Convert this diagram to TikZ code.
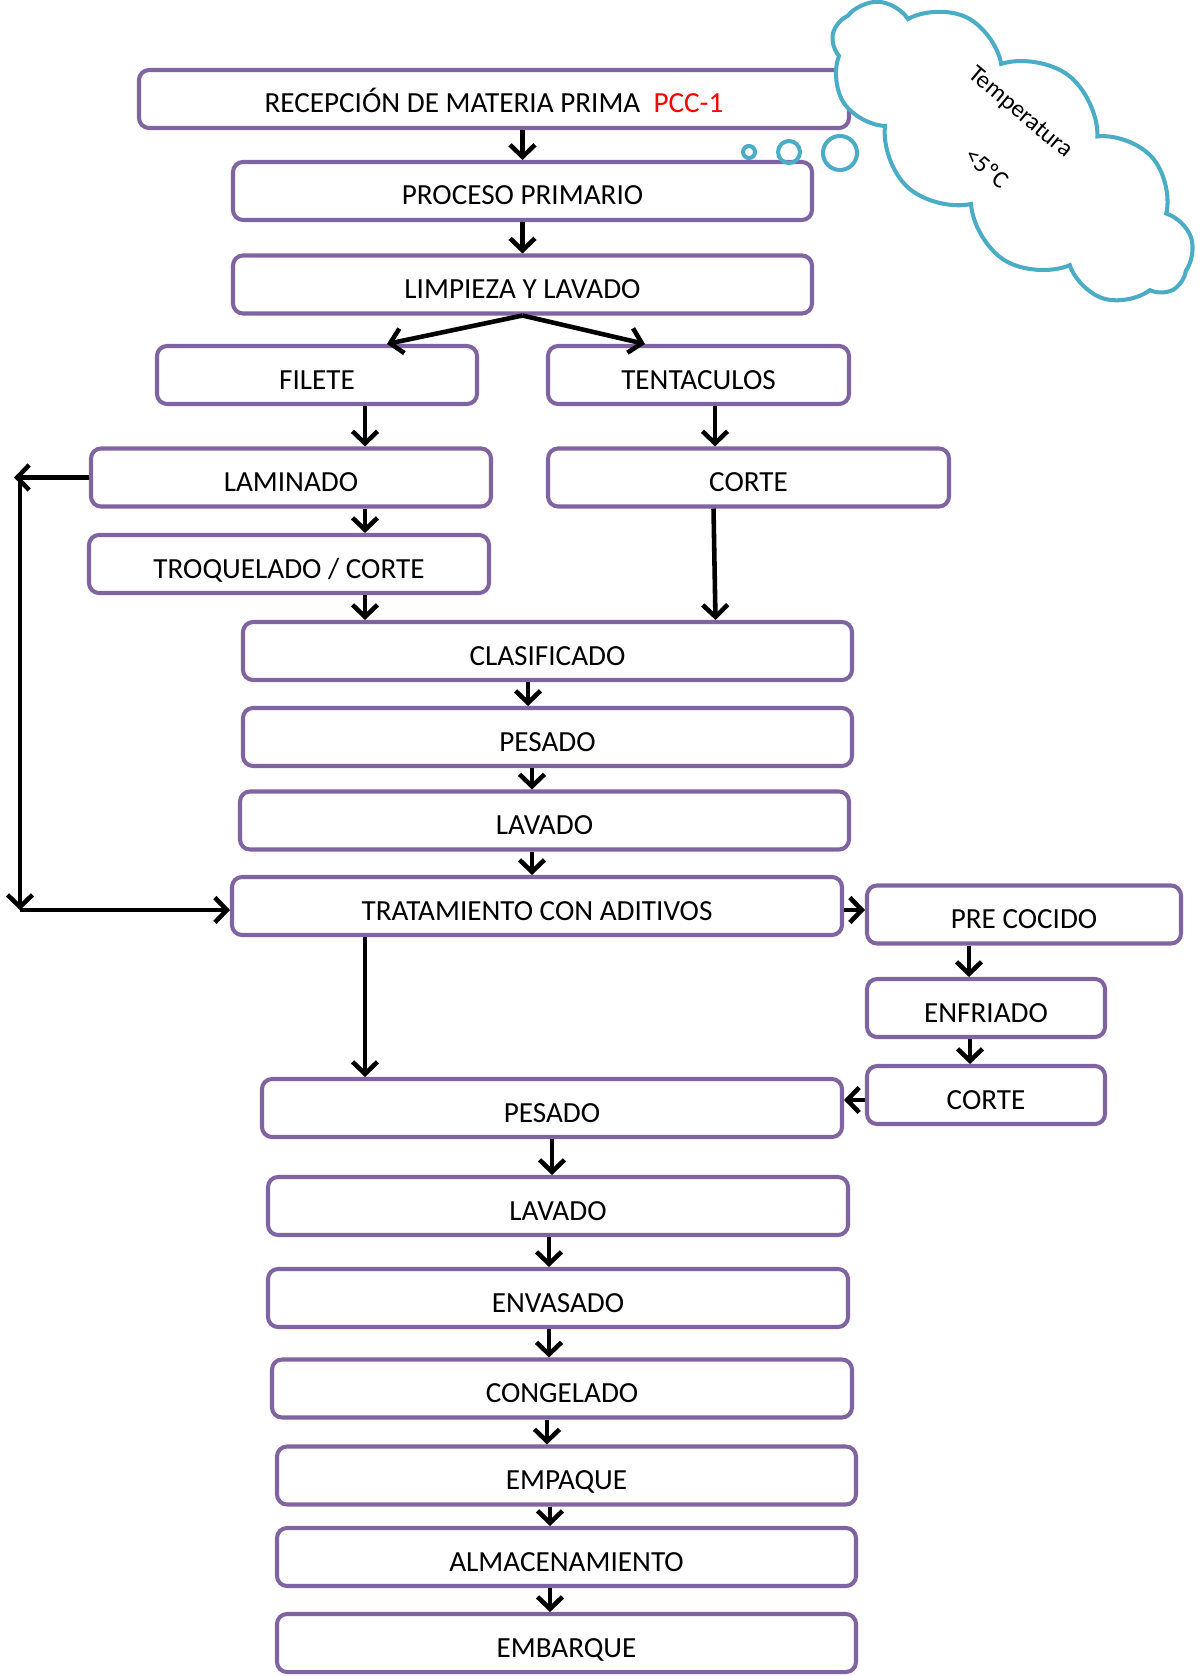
\documentclass[tikz,border=0pt]{standalone}
\usepackage{fontspec}
\setmainfont{Carlito}
\usetikzlibrary{arrows.meta,shapes.symbols}
\definecolor{boxpurple}{HTML}{8064A2}
\definecolor{cloudblue}{HTML}{4BACC6}
\begin{document}
\begin{tikzpicture}[font=\fontsize{16.6}{19}\selectfont,
  box/.style={draw=boxpurple, line width=2.3pt, rounded corners=0.2cm, fill=white,
    minimum height=1.16cm, inner sep=0pt, text height=0.56cm, text depth=0pt},
  arr/.style={line width=2.6pt, -{Straight Barb[length=0.24cm,width=0.5cm]}},
  bubble/.style={draw=cloudblue, line width=2.3pt}]
\useasboundingbox (0,0) rectangle (24.02,-33.52);
% main line
\node[box, minimum width=14.2cm] (rec) at (9.88,-1.98) {RECEPCIÓN DE MATERIA PRIMA \ \textcolor{red}{PCC-1}};
\node[box, minimum width=11.58cm] (pp) at (10.45,-3.82) {PROCESO PRIMARIO};
\node[box, minimum width=11.58cm] (lim) at (10.45,-5.69) {LIMPIEZA Y LAVADO};
\node[box, minimum width=6.4cm] (fil) at (6.34,-7.50) {FILETE};
\node[box, minimum width=6.02cm] (ten) at (13.97,-7.50) {TENTACULOS};
\node[box, minimum width=8.0cm] (lam) at (5.82,-9.55) {LAMINADO};
\node[box, minimum width=8.02cm] (cor1) at (14.97,-9.55) {CORTE};
\node[box, minimum width=8.0cm] (tro) at (5.78,-11.28) {TROQUELADO / CORTE};
\node[box, minimum width=12.18cm] (cla) at (10.95,-13.02) {CLASIFICADO};
\node[box, minimum width=12.18cm] (pes1) at (10.95,-14.74) {PESADO};
\node[box, minimum width=12.18cm] (lav1) at (10.89,-16.41) {LAVADO};
\node[box, minimum width=12.2cm] (tra) at (10.74,-18.12) {TRATAMIENTO CON ADITIVOS};
% side line
\node[box, minimum width=6.28cm] (pre) at (20.48,-18.29) {PRE COCIDO};
\node[box, minimum width=4.76cm] (enf) at (19.72,-20.16) {ENFRIADO};
\node[box, minimum width=4.76cm] (cor2) at (19.72,-21.90) {CORTE};
% last part
\node[box, minimum width=11.6cm] (pes2) at (11.04,-22.16) {PESADO};
\node[box, minimum width=11.6cm] (lav2) at (11.16,-24.12) {LAVADO};
\node[box, minimum width=11.6cm] (env) at (11.16,-25.96) {ENVASADO};
\node[box, minimum width=11.6cm] (con) at (11.24,-27.77) {CONGELADO};
\node[box, minimum width=11.58cm] (emp) at (11.33,-29.51) {EMPAQUE};
\node[box, minimum width=11.58cm] (alm) at (11.33,-31.14) {ALMACENAMIENTO};
\node[box, minimum width=11.58cm] (emb) at (11.33,-32.86) {EMBARQUE};
% arrows
\draw[arr] (rec.south -| pp.north) -- (pp.north);
\draw[arr] (pp.south) -- (lim.north);
\draw[arr] (lim.south) -- ([xshift=1.4cm]fil.north);
\draw[arr] (lim.south) -- ([xshift=-1.07cm]ten.north);
\draw[arr] ([xshift=0.96cm]fil.south) -- ([xshift=0.96cm]fil.south |- lam.north);
\draw[arr] ([xshift=0.33cm]ten.south) -- ([xshift=0.33cm]ten.south |- cor1.north);
\draw[arr] ([xshift=1.48cm]lam.south) -- ([xshift=1.48cm]lam.south |- tro.north);
\draw[arr] ([xshift=1.52cm]tro.south) -- ([xshift=1.52cm]tro.south |- cla.north);
\draw[arr] ([xshift=-0.7cm]cor1.south) -- ([xshift=-0.66cm]cor1.south |- cla.north);
\draw[arr] ([xshift=-0.39cm]cla.south) -- ([xshift=-0.39cm]cla.south |- pes1.north);
\draw[arr] ([xshift=-0.31cm]pes1.south) -- ([xshift=-0.31cm]pes1.south |- lav1.north);
\draw[arr] ([xshift=-0.25cm]lav1.south) -- ([xshift=-0.25cm]lav1.south |- tra.north);
% loop from laminado
\coordinate (lp1) at (0.28,-9.55);
\coordinate (lp2) at (0.40,-9.55);
\coordinate (lp3) at (0.40,-18.2);
\draw[arr] (lam.west) -- (lp1);
\draw[arr] (lp2) -- (lp3);
\draw[arr] (lp3) -- (lp3 -| tra.west);
\draw[arr] ([yshift=-0.08cm]tra.east) -- ([yshift=-0.08cm]tra.east -| pre.west);
\draw[arr] ([xshift=-3.44cm]tra.south) -- ([xshift=-3.44cm]tra.south |- pes2.north);
\draw[arr] ([xshift=-1.1cm]pre.south) -- ([xshift=-1.1cm]pre.south |- enf.north);
\draw[arr] ([xshift=-0.32cm]enf.south) -- ([xshift=-0.32cm]enf.south |- cor2.north);
\draw[arr] ([yshift=-0.1cm]cor2.west) -- ([yshift=-0.1cm]cor2.west -| pes2.east);
\draw[arr] (pes2.south) -- (pes2.south |- lav2.north);
\draw[arr] ([xshift=-0.18cm]lav2.south) -- ([xshift=-0.18cm]lav2.south |- env.north);
\draw[arr] ([xshift=-0.18cm]env.south) -- ([xshift=-0.18cm]env.south |- con.north);
\draw[arr] ([xshift=-0.3cm]con.south) -- ([xshift=-0.3cm]con.south |- emp.north);
\draw[arr] ([xshift=-0.33cm]emp.south) -- ([xshift=-0.33cm]emp.south |- alm.north);
\draw[arr] ([xshift=-0.33cm]alm.south) -- ([xshift=-0.33cm]alm.south |- emb.north);
% thought cloud
\node[cloud, cloud puffs=11, cloud puff arc=110, cloud ignores aspect, draw=cloudblue, line width=2.3pt,
  fill=white, minimum width=8.6cm, minimum height=3.8cm, rotate=-37] (nube) at (20.22,-3.02) {};
\node[rotate=-40, font=\fontsize{14}{16}\selectfont] (temp) at (20.40,-2.26) {Temperatura};
\node[rotate=-40, font=\fontsize{14}{16}\selectfont] (grad) at (19.74,-3.36) {<5ºC};
\draw[bubble] (14.98,-3.04) circle (0.12);
\draw[bubble] (15.78,-3.04) circle (0.22);
\draw[bubble] (16.80,-3.06) circle (0.34);
\end{tikzpicture}
\end{document}
